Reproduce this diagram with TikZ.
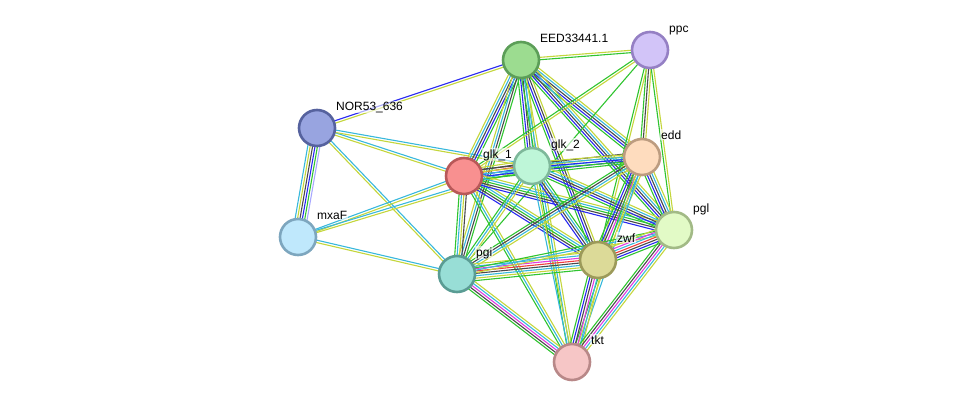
\documentclass[tikz,border=0pt]{standalone}
\usepackage{fontspec}
\setmainfont{Liberation Sans}
\usetikzlibrary{calc,backgrounds}
\definecolor{cC}{HTML}{38B8DC}
\definecolor{cY}{HTML}{C4D63C}
\definecolor{cG}{HTML}{30C430}
\definecolor{cB}{HTML}{2828F0}
\definecolor{cK}{HTML}{4A4A4A}
\definecolor{cM}{HTML}{E03CE0}
\definecolor{cR}{HTML}{F03C3C}
\definecolor{cL}{HTML}{A8A8FF}
\tikzset{
  prot/.style={circle, minimum size=36pt, inner sep=0pt, line width=2.6pt},
  lbl/.style={anchor=base west, font=\fontsize{12}{14}\selectfont, inner sep=1pt,
    fill=white, fill opacity=0.6, text opacity=1}
}
\newcommand{\sedge}[3]{%
  \gdef\sncount{0}%
  \foreach \sc in {#3}{\pgfmathtruncatemacro\stmp{\sncount+1}\global\let\sncount\stmp}%
  \foreach \sc [count=\si] in {#3}{%
    \pgfmathsetmacro\soff{(\si-(\sncount+1)/2)*2.4}%
    \draw[line width=1.1pt,draw=\sc] ($(#1.center)!\soff pt!90:(#2.center)$) -- ($(#2.center)!\soff pt!-90:(#1.center)$);}%
}
\begin{document}
\begin{tikzpicture}[x=1pt,y=-1pt]
\useasboundingbox (0,0) rectangle (976,407);
% nodes
\node[prot, fill={rgb,255:red,156;green,220;blue,144}, draw={rgb,255:red,92;green,158;blue,88}] (EED) at (521,60) {};
\node[prot, fill={rgb,255:red,210;green,196;blue,248}, draw={rgb,255:red,149;green,128;blue,196}] (ppc) at (650,50) {};
\node[prot, fill={rgb,255:red,152;green,164;blue,224}, draw={rgb,255:red,86;green,98;blue,158}] (NOR) at (317,128) {};
\node[prot, fill={rgb,255:red,248;green,144;blue,144}, draw={rgb,255:red,184;green,88;blue,88}] (glkA) at (464,176) {};
\node[prot, fill={rgb,255:red,190;green,246;blue,216}, draw={rgb,255:red,126;green,184;blue,154}] (glkB) at (532,166) {};
\node[prot, fill={rgb,255:red,254;green,220;blue,190}, draw={rgb,255:red,188;green,156;blue,128}] (edd) at (642,157) {};
\node[prot, fill={rgb,255:red,191;green,232;blue,252}, draw={rgb,255:red,125;green,166;blue,190}] (mxaF) at (298,237) {};
\node[prot, fill={rgb,255:red,152;green,222;blue,214}, draw={rgb,255:red,90;green,156;blue,148}] (pgi) at (457,274) {};
\node[prot, fill={rgb,255:red,220;green,218;blue,152}, draw={rgb,255:red,156;green,154;blue,90}] (zwf) at (598,260) {};
\node[prot, fill={rgb,255:red,226;green,250;blue,198}, draw={rgb,255:red,162;green,186;blue,134}] (pgl) at (674,230) {};
\node[prot, fill={rgb,255:red,246;green,198;blue,198}, draw={rgb,255:red,184;green,136;blue,136}] (tkt) at (572,362) {};
% labels
\node[lbl] (lEED) at ($(EED.center)+(18,-18)$) {EED33441.1};
\node[lbl] (lppc) at ($(ppc.center)+(18,-18)$) {ppc};
\node[lbl] (lNOR) at ($(NOR.center)+(18,-18)$) {NOR53\_636};
\node[lbl] (lglkA) at ($(glkA.center)+(18,-18)$) {glk\_1};
\node[lbl] (lglkB) at ($(glkB.center)+(18,-18)$) {glk\_2};
\node[lbl] (ledd) at ($(edd.center)+(18,-18)$) {edd};
\node[lbl] (lmxaF) at ($(mxaF.center)+(18,-18)$) {mxaF};
\node[lbl] (lpgi) at ($(pgi.center)+(18,-18)$) {pgi};
\node[lbl] (lzwf) at ($(zwf.center)+(18,-18)$) {zwf};
\node[lbl] (lpgl) at ($(pgl.center)+(18,-18)$) {pgl};
\node[lbl] (ltkt) at ($(tkt.center)+(18,-18)$) {tkt};
% edges
\begin{pgfonlayer}{background}
\sedge{NOR}{EED}{cY,cB}
\sedge{NOR}{glkA}{cY,cC}
\sedge{NOR}{glkB}{cY,cC}
\sedge{NOR}{pgi}{cY,cC}
\sedge{NOR}{mxaF}{cC,cY,cK,cB,cG,cL}
\sedge{mxaF}{glkA}{cY,cC}
\sedge{mxaF}{glkB}{cY,cC}
\sedge{mxaF}{pgi}{cY,cC}
\sedge{EED}{ppc}{cG,cY}
\sedge{EED}{glkA}{cY,cC,cK,cB,cG}
\sedge{EED}{glkB}{cG,cB,cK,cC,cY}
\sedge{EED}{edd}{cG,cB,cK,cC,cY}
\sedge{EED}{pgi}{cY,cC,cK,cG}
\sedge{EED}{zwf}{cG,cB,cK,cY}
\sedge{EED}{pgl}{cG,cB,cK,cC,cY}
\sedge{EED}{tkt}{cG,cC,cY}
\sedge{ppc}{glkA}{cG,cY}
\sedge{ppc}{pgi}{cG}
\sedge{ppc}{edd}{cG,cK,cY}
\sedge{ppc}{zwf}{cG,cY}
\sedge{ppc}{pgl}{cG,cY}
\sedge{glkA}{glkB}{cG,cC,cB,cR,cK,cY}
\sedge{glkA}{edd}{cG,cB,cC,cY,cK}
\sedge{glkA}{pgi}{cG,cC,cY,cK}
\sedge{glkA}{zwf}{cB,cK,cG,cC,cY}
\sedge{glkA}{pgl}{cB,cK,cG,cC,cY}
\sedge{glkA}{tkt}{cG,cC,cY}
\sedge{glkB}{edd}{cG,cB,cC,cY}
\sedge{glkB}{pgi}{cG,cC,cY}
\sedge{glkB}{zwf}{cB,cK,cC,cG}
\sedge{glkB}{pgl}{cG,cB,cK,cC,cY}
\sedge{glkB}{tkt}{cC,cY}
\sedge{edd}{pgi}{cG,cK,cC,cY}
\sedge{edd}{zwf}{cG,cB,cK,cM,cC,cY}
\sedge{edd}{pgl}{cG,cB,cK,cC,cY}
\sedge{edd}{tkt}{cG,cY,cC}
\sedge{pgi}{zwf}{cG,cY,cC,cK,cR,cM,cC,cY}
\sedge{pgi}{pgl}{cY,cC,cG}
\sedge{pgi}{tkt}{cG,cK,cM,cC,cY}
\sedge{zwf}{pgl}{cG,cB,cK,cR,cC,cM,cY}
\sedge{zwf}{tkt}{cG,cB,cK,cM,cC,cY}
\sedge{pgl}{tkt}{cG,cK,cM,cC,cY}
\end{pgfonlayer}
\end{tikzpicture}
\end{document}
